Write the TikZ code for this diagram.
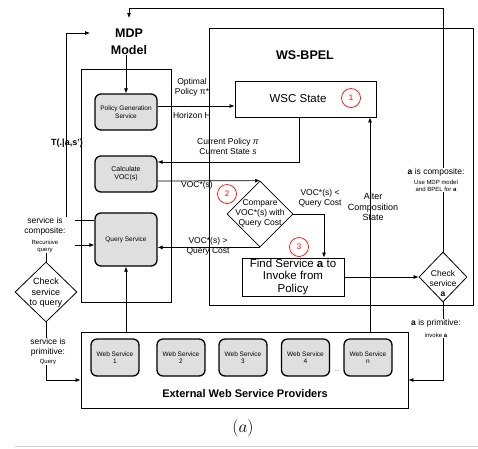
\documentclass[tikz,border=0pt]{standalone}
\usepackage{fontspec}
\setmainfont{Liberation Sans}
\usetikzlibrary{arrows.meta,shapes.geometric}
\newcommand{\fs}[1]{\fontsize{#1}{#1}\selectfont\baselineskip=1.18\baselineskip}
\begin{document}
\begin{tikzpicture}[x=1pt,y=-1pt,line width=0.7pt,
  >={Latex[length=5pt,width=4pt]},
  svc/.style={draw,line width=1.3pt,rounded corners=6pt,fill=gray!25,align=center,inner sep=0pt},
  plainbox/.style={draw,line width=0.8pt,inner sep=0pt},
  dia/.style={draw,diamond,line width=0.8pt,inner sep=0pt},
  lbl/.style={align=center,inner sep=0pt,font=\fs{8.5}},
  small/.style={align=center,inner sep=0pt,font=\fs{6}},
  redc/.style={circle,draw=red,text=red,line width=0.7pt,minimum size=19pt,inner sep=0pt,font=\fs{8}}]
\useasboundingbox (0,0) rectangle (478,448);

% big boxes
\node[plainbox,minimum width=264pt,minimum height=277pt] (bpel) at (341,166.5) {};
\node[plainbox,minimum width=90pt,minimum height=233pt] (mdp) at (126,185.5) {};
\node[plainbox,minimum width=327pt,minimum height=76pt] (ext) at (244.5,370) {};

% titles
\node[align=center,inner sep=0pt,font=\fontsize{12.5}{16.5}\selectfont\bfseries] (mdpl) at (129,42) {MDP\\Model};
\node[inner sep=0pt,font=\fs{12.5}\bfseries] (bpell) at (305,55) {WS-BPEL};
\node[inner sep=0pt,font=\fs{11}\bfseries] (extl) at (245,394) {External Web Service Providers};

% MDP services
\node[svc,minimum width=62pt,minimum height=36pt,font=\fs{6.5}] (pg) at (126,112) {Policy Generation\\Service};
\node[svc,minimum width=62pt,minimum height=36pt,font=\fs{7}] (cv) at (126,174) {Calculate\\VOC(s)};
\node[svc,minimum width=62pt,minimum height=53pt,font=\fs{6.5}] (qs) at (126,239.5) {Query Service};

% web services
\foreach \n/\x/\t in {ws1/115/1,ws2/181/2,ws3/243/3,ws4/305.5/4,wsn/368/n}
  \node[svc,minimum width=48pt,minimum height=37pt,font=\fs{6.5}] (\n) at (\x,357.5) {Web Service\\\t};
\node[inner sep=0pt,font=\fs{5}] (dots) at (337,371) {...};

% WSC state & find
\node[plainbox,minimum width=141pt,minimum height=36pt] (wsc) at (305.5,99) {};
\node[inner sep=0pt,font=\fs{11.5}] (wsct) at (298,99) {WSC State};
\node[redc] (c1) at (351,98) {1};
\node[plainbox,minimum width=102pt,minimum height=38pt,align=center,font=\fontsize{11.5}{12.5}\selectfont] (find) at (293,277) {Find Service \textbf{a} to\\Invoke from\\Policy};

% diamonds
\node[dia,minimum width=66pt,minimum height=66pt] (cmp) at (260,214) {};
\node[align=center,inner sep=0pt,font=\fs{8.5}] (cmpt) at (260,213) {Compare\\VOC*(s) with\\Query Cost};
\node[redc] (c2) at (227,194) {2};
\node[redc] (c3) at (299,247) {3};
\node[dia,minimum width=62pt,minimum height=60pt] (chq) at (46,292) {};
\node[align=center,inner sep=0pt,font=\fs{9}] (chqt) at (46,293) {Check\\service\\to query};
\node[dia,minimum width=48pt,minimum height=50pt] (cka) at (443,277) {};
\node[align=center,inner sep=0pt,font=\fs{8.5}] (ckat) at (443,283) {Check\\service\\\textbf{a}};

% labels
\node[lbl] (opt) at (192,87) {Optimal\\Policy π*};
\node[lbl] (hor) at (192,115) {Horizon H};
\node[lbl] (cur) at (228,146) {Current Policy \textit{π}\\Current State \textit{s}};
\node[lbl] (voc) at (197,185) {VOC*(s)};
\node[lbl] (vocgt) at (208,246) {VOC*(s) >\\Query Cost};
\node[lbl] (voclt) at (320,198) {VOC*(s) <\\Query Cost};
\node[lbl,font=\fs{9}] (alt) at (373,207) {Alter\\Composition\\State};
\node[lbl] (acomp) at (436,172) {\textbf{a} is composite:};
\node[small] (acomp2) at (436,186) {Use MDP model\\and BPEL for \textbf{a}};
\node[lbl] (aprim) at (436,323) {\textbf{a} is primitive:};
\node[small] (aprim2) at (436,335) {invoke \textbf{a}};
\node[lbl] (scomp) at (45,226) {service is\\composite:};
\node[small] (scomp2) at (45,246) {Recursive\\query};
\node[lbl] (sprim) at (48,347) {service is\\primitive:};
\node[small] (sprim2) at (48,362) {Query};
\node[inner sep=0pt,font=\fs{9}\bfseries] (tl) at (67,143) {T(.|a,s')};

% coordinates
\coordinate (top1) at (443,8);
\coordinate (mdpin) at (129,18);
\coordinate (loopA) at (66,217);
\coordinate (loopB) at (66,33);
\coordinate (loopC) at (90,33);
\coordinate (scR) at (75,220);
\coordinate (rqR) at (75,245);

% connectors
\draw (cka.north) -- (cka.north |- acomp2.south);
\draw[->] (cka.north |- acomp.north) -- (top1) -| (mdpin);
\draw[->] (mdpl.south -| pg.north) -- (pg.north);
\draw[->] (pg.east |- 0,106) -- (wsc.west |- 0,106);
\draw[->] (wsc.south -| 299,0) |- (cv.east |- 0,162);
\draw[->] (cv.east |- 0,181) -- (cmp.north);
\draw[->] (cmp.south) -- (qs.east |- cmp.south);
\draw[->] (cmp.east) -| (find.north -| 324,0);
\draw[->] (find.east) -- (cka.west);
\draw[->] (ext.north -| 370,0) -- (wsc.south -| 370,0);
\draw[->] (ext.north -| qs.south) -- (qs.south);
\draw (cka.south) -- (cka.south |- aprim.north);
\draw[->] (cka.south |- aprim2.south) |- (ext.east |- 0,380);
\draw (qs.west |- scR) -- (scR);
\draw[->] (loopA) -- (loopB) -- (loopC);
\draw[->] (rqR) -- (qs.west |- rqR);
\draw (scomp2.south -| chq.north) -- (chq.north);
\draw (chq.south) -- (chq.south |- sprim.north);
\draw[->] (chq.south |- sprim2.south) |- (ext.west |- 0,380);

% caption
\node[inner sep=0pt,font=\fs{19}] (cap) at (243,428) {$(a)$};
\draw[gray!35,line width=1pt] (15,446.5) -- (478,446.5);
\end{tikzpicture}
\end{document}
